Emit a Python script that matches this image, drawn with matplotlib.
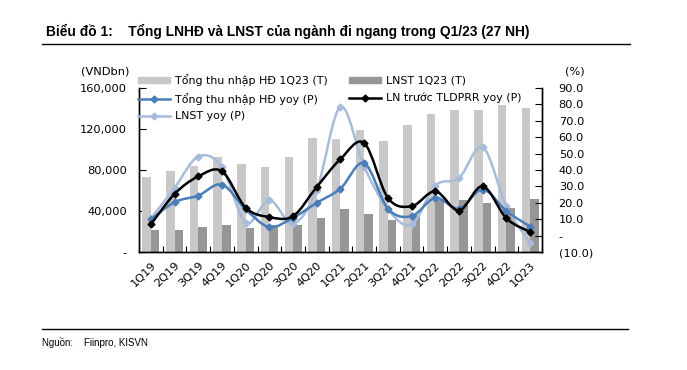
import numpy as np
import matplotlib.pyplot as plt
from matplotlib.path import Path
from matplotlib.patches import PathPatch, Patch
from matplotlib.lines import Line2D
from matplotlib.ticker import FuncFormatter

quarters = ["1Q19", "2Q19", "3Q19", "4Q19", "1Q20", "2Q20", "3Q20", "4Q20",
            "1Q21", "2Q21", "3Q21", "4Q21", "1Q22", "2Q22", "3Q22", "4Q22", "1Q23"]

# bars, left axis (VNDbn)
total_income = [73200, 79000, 84000, 92700, 85900, 83000, 92700, 111300, 110300,
                119100, 108300, 124000, 134700, 138600, 138600, 143500, 140500]
npat = [21500, 21500, 24700, 26400, 23100, 26400, 26400, 32900, 42000,
        37100, 31200, 36000, 50700, 50700, 47800, 43000, 51700]

# lines, right axis (%)
income_yoy = [9.9, 20.4, 24.4, 31.1, 16.0, 5.2, 10.9, 20.0, 28.7,
              44.2, 16.4, 11.9, 23.0, 16.4, 28.1, 14.9, 5.5]
ppop_yoy = [6.8, 25.4, 36.1, 39.2, 17.0, 11.3, 11.9, 29.7, 46.7,
            56.4, 23.0, 17.9, 27.0, 15.3, 30.1, 10.5, 2.2]
npat_yoy = [10.3, 29.1, 48.2, 41.8, 7.9, 21.6, 7.3, 28.1, 78.5,
            42.0, 16.0, 6.8, 30.5, 35.1, 53.9, 17.9, -4.7]

LIGHT = "#c8c8c8"
DARK = "#969696"
BLUE = "#4a7ebb"
LBLUE = "#a7bcdc"
FS = 8.2


def smooth_path(x, y):
    """Excel-like smoothed line through the points (cubic Bezier segments)."""
    pts = np.column_stack([x, y]).astype(float)
    n = len(pts)
    verts = [pts[0]]
    codes = [Path.MOVETO]
    for i in range(n - 1):
        p0 = pts[i - 1] if i > 0 else pts[i]
        p1, p2 = pts[i], pts[i + 1]
        p3 = pts[i + 2] if i + 2 < n else pts[i + 1]
        c1 = p1 + (p2 - p0) / 6
        c2 = p2 - (p3 - p1) / 6
        verts += [c1, c2, p2]
        codes += [Path.CURVE4] * 3
    return Path(verts, codes)


fig = plt.figure(figsize=(6.87, 3.70), dpi=100)
ax = fig.add_axes([139 / 687, 1 - 252 / 370, 403 / 687, 164 / 370])
ax2 = ax.twinx()

x = np.arange(len(quarters))
w = 0.36
ax.bar(x - w / 2, total_income, w, color=LIGHT, zorder=2)
ax.bar(x + w / 2, npat, w, color=DARK, zorder=2)

ax.set_xlim(-0.5, len(quarters) - 0.5)
ax.set_ylim(0, 160000)
ax.set_yticks(np.arange(0, 160001, 40000))
ax.yaxis.set_major_formatter(FuncFormatter(lambda v, p: "-" if v == 0 else f"{v:,.0f}"))
ax.set_xticks(x)
ax.set_xticklabels(quarters, rotation=45, ha="right", rotation_mode="anchor", fontsize=FS)
ax.set_xticks(np.arange(-0.5, len(quarters)), minor=True)
ax.tick_params(axis="x", which="major", length=0, pad=6)
ax.tick_params(axis="x", which="minor", direction="in", length=4, width=0.8)
ax.tick_params(axis="y", direction="in", length=5, width=0.8, labelsize=FS, pad=8.6)

ax2.set_ylim(-10, 90)
ax2.set_yticks(np.arange(-10, 91, 10))


def pct_fmt(v, p):
    if abs(v) < 1e-9:
        return "-"
    if v < 0:
        return f"({abs(v):.1f})"
    return f"{v:.1f}"


ax2.yaxis.set_major_formatter(FuncFormatter(pct_fmt))
ax2.tick_params(axis="y", direction="in", length=5, width=0.8, labelsize=FS, pad=12)

for a in (ax, ax2):
    a.spines["top"].set_visible(False)
    for s in ("left", "right", "bottom"):
        a.spines[s].set_linewidth(1.0)

series = [(income_yoy, BLUE, 3), (npat_yoy, LBLUE, 2), (ppop_yoy, "black", 4)]
for vals, col, z in series:
    ax2.add_patch(PathPatch(smooth_path(x, vals), facecolor="none", edgecolor=col,
                            lw=1.8, zorder=z))
    ax2.plot(x, vals, ls="none", marker="D", ms=3.5, color=col, zorder=z)

handles = [
    Patch(color=LIGHT, label="Tổng thu nhập HĐ 1Q23 (T)"),
    Line2D([], [], color=BLUE, lw=1.8, marker="D", ms=3.5, label="Tổng thu nhập HĐ yoy (P)"),
    Line2D([], [], color=LBLUE, lw=1.8, marker="D", ms=3.5, label="LNST yoy (P)"),
    Patch(color=DARK, label="LNST 1Q23 (T)"),
    Line2D([], [], color="black", lw=1.8, marker="D", ms=3.5, label="LN trước TLDPRR yoy (P)"),
]
fig.legend(handles=handles, ncol=2, loc="upper left", bbox_to_anchor=(138 / 687, 1 - 74 / 370),
           frameon=False, fontsize=7.9, handlelength=2.9, handleheight=0.5,
           handletextpad=0.45, columnspacing=2.0, labelspacing=0.62, borderpad=0,
           borderaxespad=0)

fig.text(105 / 687, 1 - 72 / 370, "(VNDbn)", ha="center", va="center", fontsize=FS)
fig.text(575 / 687, 1 - 72 / 370, "(%)", ha="center", va="center", fontsize=FS)

fig.text(46 / 687, 1 - 31 / 370,
         "Biểu đồ 1:    Tổng LNHĐ và LNST của ngành đi ngang trong Q1/23 (27 NH)",
         ha="left", va="center", fontsize=9.9, fontweight="bold",
         family=["Liberation Sans", "DejaVu Sans"])
fig.add_artist(Line2D([42 / 687, 630 / 687], [1 - 44 / 370] * 2, color="black", lw=1.0))
fig.add_artist(Line2D([42 / 687, 628 / 687], [1 - 329 / 370] * 2, color="black", lw=1.0))
fig.text(42 / 687, 1 - 342 / 370, "Nguồn:    Fiinpro, KISVN", ha="left", va="center",
         fontsize=7, family=["Liberation Sans", "DejaVu Sans"])

fig.savefig("out.png", dpi=100)
